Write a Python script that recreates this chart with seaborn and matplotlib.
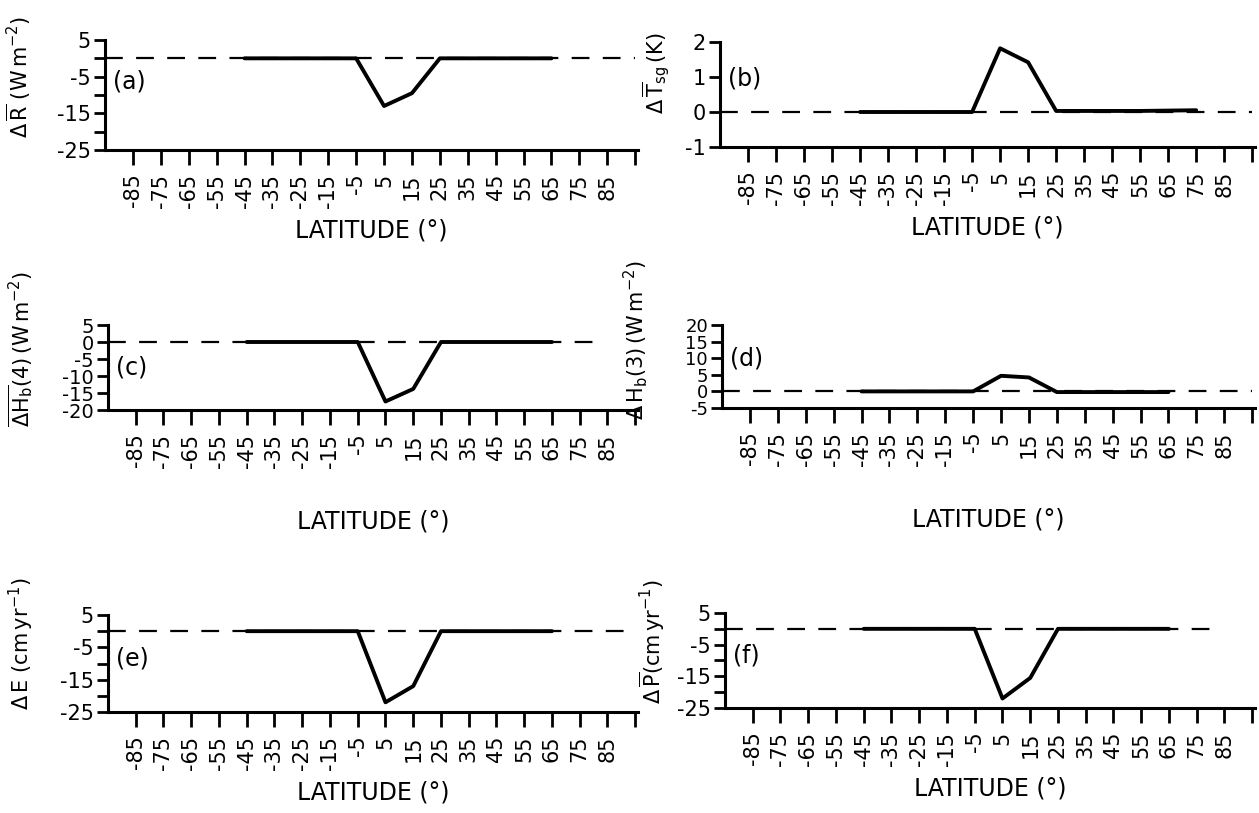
import numpy as np
import pandas as pd
import seaborn as sns
import matplotlib
matplotlib.use("Agg")
import matplotlib.pyplot as plt

# ---------------- data ----------------
lat_a = [-45, -35, -25, -15, -5, 5, 15, 25, 35, 45, 55, 65]
val_a = [0, 0, 0, 0, 0, -13.0, -9.5, 0, 0, 0, 0, 0]

lat_b = [-45, -35, -25, -15, -5, 5, 15, 25, 35, 45, 55, 65, 75]
val_b = [0, 0, 0, 0, 0, 1.82, 1.42, 0.03, 0.03, 0.03, 0.03, 0.04, 0.05]

lat_c = [-45, -35, -25, -15, -5, 5, 15, 25, 35, 45, 55, 65]
val_c = [0, 0, 0, 0, 0, -17.5, -13.8, 0, 0, 0, 0, 0]

lat_d = [-45, -35, -25, -15, -5, 5, 15, 25, 35, 45, 55, 65]
val_d = [0, 0, 0, 0, 0, 4.7, 4.2, -0.2, -0.2, -0.2, -0.2, -0.2]

lat_e = [-45, -35, -25, -15, -5, 5, 15, 25, 35, 45, 55, 65]
val_e = [0, 0, 0, 0, 0, -22.0, -17.0, 0, 0, 0, 0, 0]

lat_f = [-45, -35, -25, -15, -5, 5, 15, 25, 35, 45, 55, 65]
val_f = [0, 0, 0, 0, 0, -22.0, -15.5, 0, 0, 0, 0, 0]

xtick_vals = [-85, -75, -65, -55, -45, -35, -25, -15, -5, 5, 15, 25, 35, 45, 55, 65, 75, 85, 95]
xtick_labels = ["-85", "-75", "-65", "-55", "-45", "-35", "-25", "-15", "-5",
                "5", "15", "25", "35", "45", "55", "65", "75", "85", ""]

yticks_a = [-25, -20, -15, -10, -5, 0, 5]
ylabels_a = ["-25", "", "-15", "", "-5", "", "5"]
yticks_b = [-1, 0, 1, 2]
ylabels_b = ["-1", "0", "1", "2"]
yticks_c = [-20, -15, -10, -5, 0, 5]
ylabels_c = ["-20", "-15", "-10", "-5", "0", "5"]
yticks_d = [-5, 0, 5, 10, 15, 20]
ylabels_d = ["-5", "0", "5", "10", "15", "20"]
yticks_e = [-25, -20, -15, -10, -5, 0, 5]
ylabels_e = ["-25", "", "-15", "", "-5", "", "5"]
yticks_f = [-25, -20, -15, -10, -5, 0, 5]
ylabels_f = ["-25", "", "-15", "", "-5", "", "5"]

ylab_a = r"$\Delta\,\overline{\mathrm{R}}\ (\mathrm{W\,m^{-2}})$"
ylab_b = r"$\Delta\,\overline{\mathrm{T}}_{\mathrm{sg}}\,(\mathrm{K})$"
ylab_c = r"$\overline{\Delta\mathrm{H_b}}\mathrm{(4)\,(W\,m^{-2})}$"
ylab_d = r"$\Delta\,\mathrm{H_b(3)\,(W\,m^{-2})}$"
ylab_e = r"$\Delta\,\mathrm{E}\ (\mathrm{cm\,yr^{-1}})$"
ylab_f = r"$\Delta\,\overline{\mathrm{P}}(\mathrm{cm\,yr^{-1}})$"

tags = ["(a)", "(b)", "(c)", "(d)", "(e)", "(f)"]
xlabel = "LATITUDE (°)"

# ---------------- style ----------------
sns.set_style("ticks")
plt.rcParams["font.family"] = ["DejaVu Sans"]
plt.rcParams["mathtext.fontset"] = "dejavusans"
for k in ["text.color", "axes.labelcolor", "xtick.color", "ytick.color", "axes.edgecolor"]:
    plt.rcParams[k] = "black"

fig = plt.figure(figsize=(12.59, 8.13), dpi=100)

W, H = 1259.0, 813.0
def box(l, t, r, b):
    return [l / W, 1 - b / H, (r - l) / W, (b - t) / H]

panels = [
    dict(lat=lat_a, val=val_a, yt=yticks_a, yl=ylabels_a, ylab=ylab_a, tag=tags[0],
         rect=box(105, 40, 638, 150), dash_end=95, tagy=0.62, lab=(-0.135, 0.66),
         yfs=15, xlp=8),
    dict(lat=lat_b, val=val_b, yt=yticks_b, yl=ylabels_b, ylab=ylab_b, tag=tags[1],
         rect=box(720, 42, 1255, 147), dash_end=95, tagy=0.65, lab=(-0.090, 0.70),
         yfs=15, xlp=8),
    dict(lat=lat_c, val=val_c, yt=yticks_c, yl=ylabels_c, ylab=ylab_c, tag=tags[2],
         rect=box(108, 325, 638, 410), dash_end=83, tagy=0.50, lab=(-0.135, 0.72),
         yfs=14, xlp=30),
    dict(lat=lat_d, val=val_d, yt=yticks_d, yl=ylabels_d, ylab=ylab_d, tag=tags[3],
         rect=box(722, 325, 1255, 408), dash_end=95, tagy=0.60, lab=(-0.136, 0.82),
         yfs=13, xlp=30),
    dict(lat=lat_e, val=val_e, yt=yticks_e, yl=ylabels_e, ylab=ylab_e, tag=tags[4],
         rect=box(108, 615, 638, 712), dash_end=95, tagy=0.55, lab=(-0.135, 0.70),
         yfs=15, xlp=8),
    dict(lat=lat_f, val=val_f, yt=yticks_f, yl=ylabels_f, ylab=ylab_f, tag=tags[5],
         rect=box(725, 613, 1255, 708), dash_end=83, tagy=0.55, lab=(-0.110, 0.70),
         yfs=15, xlp=8),
]

for p in panels:
    ax = fig.add_axes(p["rect"])
    df = pd.DataFrame({"lat": p["lat"], "val": p["val"]})
    ax.hlines(0, -95, p["dash_end"], colors="black", linestyles=(0, (8, 6)), linewidth=1.6)
    sns.lineplot(data=df, x="lat", y="val", ax=ax, color="black", linewidth=2.8)
    ax.set_xlim(-95, 96)
    ax.set_ylim(p["yt"][0], p["yt"][-1])
    ax.set_xticks(xtick_vals)
    ax.set_xticklabels(xtick_labels, rotation=90, fontsize=15)
    ax.set_yticks(p["yt"])
    ax.set_yticklabels(p["yl"], fontsize=p["yfs"])
    ax.tick_params(axis="x", direction="out", length=11, width=2, pad=6, colors="black")
    ax.tick_params(axis="y", direction="out", length=8, width=2, pad=2, colors="black")
    for s in ["top", "right"]:
        ax.spines[s].set_visible(False)
    for s in ["left", "bottom"]:
        ax.spines[s].set_linewidth(2.2)
        ax.spines[s].set_color("black")
    ax.set_xlabel(xlabel, fontsize=17, labelpad=p["xlp"])
    ax.set_ylabel(p["ylab"], fontsize=15)
    ax.yaxis.set_label_coords(p["lab"][0], p["lab"][1])
    ax.text(0.015, p["tagy"], p["tag"], transform=ax.transAxes, fontsize=17,
            ha="left", va="center")

fig.savefig("out.png", dpi=100)
